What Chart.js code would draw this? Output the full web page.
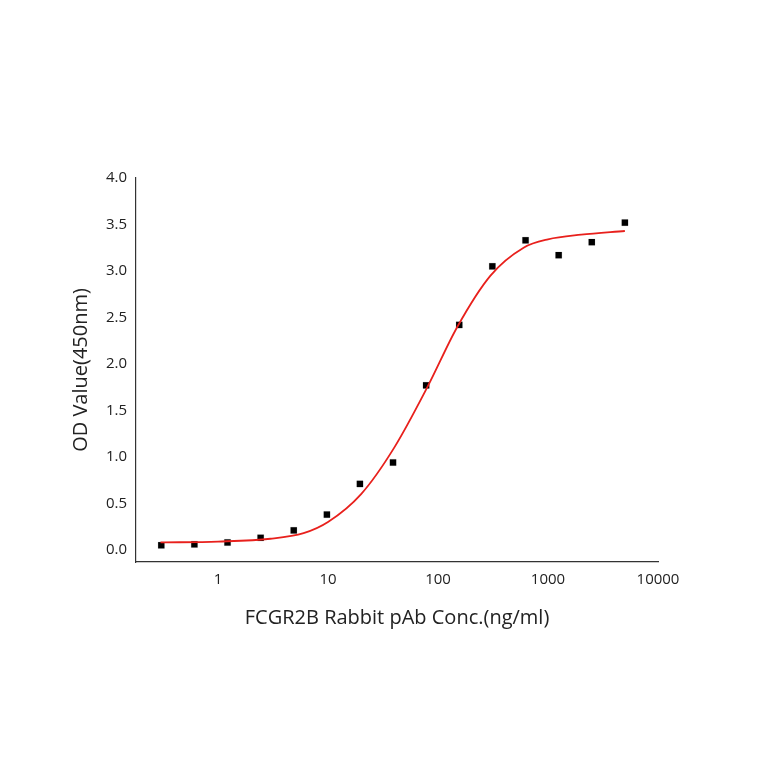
<!DOCTYPE html>
<html>
<head>
<script src="https://cdn.jsdelivr.net/npm/chart.js@4"></script>
<style>body{margin:0;background:#fff}#wrap{width:764px;height:764px}</style>
</head>
<body>
<div id="wrap"><canvas id="c"></canvas></div>
<script>
// measured points
const concs = [0.305, 0.61, 1.22, 2.44, 4.88, 9.77, 19.5, 39, 78, 156, 312, 625, 1250, 2500, 5000];
const odValues = [0.05, 0.06, 0.08, 0.13, 0.21, 0.38, 0.71, 0.94, 1.77, 2.42, 3.05, 3.33, 3.17, 3.31, 3.52];

// fitted curve
const curveX = [0.3, 1, 3, 6, 10, 20, 40, 80, 150, 300, 600, 1000, 2000, 5000];
const curveY = [0.08, 0.09, 0.12, 0.18, 0.3, 0.6, 1.1, 1.75, 2.4, 2.95, 3.25, 3.34, 3.39, 3.43];

const xTicks = [1, 10, 100, 1000, 10000];

const font = { family: "'Open Sans', Arial", size: 15 };

new Chart(document.getElementById("c"), {
    type: "scatter",
    data: {
        datasets: [
            {
                type: "line",
                data: curveX.map((x, i) => ({ x, y: curveY[i] })),
                borderColor: "#e8201c",
                borderWidth: 1.8,
                pointRadius: 0,
                tension: 0.4,
                cubicInterpolationMode: "monotone"
            },
            {
                data: concs.map((x, i) => ({ x, y: odValues[i] })),
                backgroundColor: "#000",
                pointStyle: "rect",
                pointRadius: 4.5
            }
        ]
    },
    options: {
        responsive: true,
        maintainAspectRatio: false,
        animation: false,
        layout: { padding: { left: 65, right: 106, top: 178, bottom: 130 } },
        plugins: { legend: { display: false }, tooltip: { enabled: false } },
        scales: {
            x: {
                type: "logarithmic",
                min: 0.18,
                max: 10000,
                afterBuildTicks: axis => { axis.ticks = xTicks.map(v => ({ value: v })); },
                ticks: { color: "#222", font, callback: v => String(v) },
                grid: { display: false, drawTicks: true, tickLength: 6, color: "#333" },
                border: { color: "#333", width: 1.2 },
                title: { display: true, text: "FCGR2B Rabbit pAb Conc.(ng/ml)", color: "#222", font: { family: font.family, size: 20 }, padding: { top: 14 } }
            },
            y: {
                min: -0.13,
                max: 4.0,
                afterBuildTicks: axis => {
                    const t = [];
                    for (let v = 0; v <= 4.0001; v += 0.5) t.push({ value: +v.toFixed(1) });
                    axis.ticks = t;
                },
                ticks: { color: "#222", font, callback: v => v.toFixed(1) },
                grid: { display: false, drawTicks: true, tickLength: 6, color: "#333" },
                border: { color: "#333", width: 1.2 },
                title: { display: true, text: "OD Value(450nm)", color: "#222", font: { family: font.family, size: 20 }, padding: { bottom: 10 } }
            }
        }
    }
});
</script>
</body>
</html>
